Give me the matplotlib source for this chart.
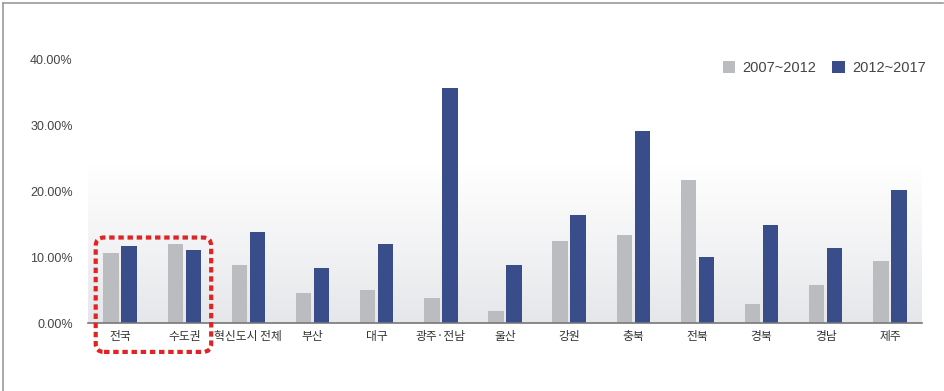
import numpy as np
import matplotlib.pyplot as plt
from matplotlib.patches import FancyBboxPatch
from matplotlib.colors import LinearSegmentedColormap

plt.rcParams['font.family'] = ['Noto Sans CJK KR', 'DejaVu Sans']

regions = ['전국', '수도권', '혁신도시 전체', '부산', '대구', '광주·전남', '울산',
           '강원', '충북', '전북', '경북', '경남', '제주']
rate_0712 = [10.6, 12.0, 8.8, 4.6, 5.0, 3.8, 1.8, 12.5, 13.4, 21.8, 2.9, 5.8, 9.4]
rate_1217 = [11.7, 11.1, 13.8, 8.4, 12.0, 35.7, 8.8, 16.4, 29.2, 10.0, 14.9, 11.4, 20.2]
series_names = ['2007~2012', '2012~2017']
yticks = [0, 10, 20, 30, 40]

GREY = '#bbbcc0'
BLUE = '#394d8b'
TXT = '#444444'

fig = plt.figure(figsize=(9.45, 3.91), dpi=100)
W, H = 945, 391
ax = fig.add_axes([88 / W, (H - 323) / H, (922 - 88) / W, (323 - 60) / H])

# soft gradient in plot background
grad = np.linspace(0, 1, 256).reshape(-1, 1)
grad = np.clip((grad - 0.4) / 0.6, 0, 1)
cmap = LinearSegmentedColormap.from_list('bg', ['#ffffff', '#e6e7ea'])
ax.imshow(grad, cmap=cmap, aspect='auto', extent=[-0.5, 12.5, 0, 40],
          origin='upper', zorder=0)

x = np.arange(len(regions))
w = 0.24
ax.bar(x - 0.14, rate_0712, width=w, color=GREY, zorder=2, label=series_names[0])
ax.bar(x + 0.14, rate_1217, width=w, color=BLUE, zorder=2, label=series_names[1])

ax.set_xlim(-0.5, 12.5)
ax.set_ylim(0, 40)
ax.set_yticks(yticks)
ax.set_yticklabels(['{:.2f}%'.format(v) for v in yticks], fontsize=9, color=TXT,
                   family=['Liberation Sans', 'DejaVu Sans'])
ax.set_xticks(x)
ax.set_xticklabels(regions, fontsize=8.5, color='#333333')
ax.tick_params(axis='both', length=0)
ax.tick_params(axis='y', pad=11)
ax.tick_params(axis='x', pad=5)
for s in ['top', 'right', 'left']:
    ax.spines[s].set_visible(False)
ax.spines['bottom'].set_color('#777777')
ax.spines['bottom'].set_linewidth(1.2)
ax.spines['bottom'].set_zorder(3)

# legend
leg = ax.legend(loc='upper right', bbox_to_anchor=(1.02, 1.045), ncol=2, frameon=False,
                handlelength=0.85, handleheight=0.85, handletextpad=0.5,
                columnspacing=1.1, prop={'family': 'Liberation Sans', 'size': 10.5})
for t in leg.get_texts():
    t.set_color(TXT)

# red dashed highlight box around first two groups
sx = 834 / 13
sy = 263 / 40
box = FancyBboxPatch((-0.38, -4.4), 1.80, 17.4,
                     boxstyle='round,pad=0,rounding_size=0.13',
                     mutation_aspect=sx / sy,
                     fill=False, edgecolor='#e02424', linewidth=3,
                     linestyle=(0, (1.3, 0.9)), clip_on=False, zorder=5)
ax.add_patch(box)

# outer frame (top and left)
fig.add_artist(plt.Line2D([3 / W, 943 / W], [(H - 3) / H] * 2,
                          transform=fig.transFigure, color='#9a9a9a', lw=1.2))
fig.add_artist(plt.Line2D([3 / W, 3 / W], [0, (H - 3) / H],
                          transform=fig.transFigure, color='#9a9a9a', lw=1.2))

fig.savefig('out.png', dpi=100)
